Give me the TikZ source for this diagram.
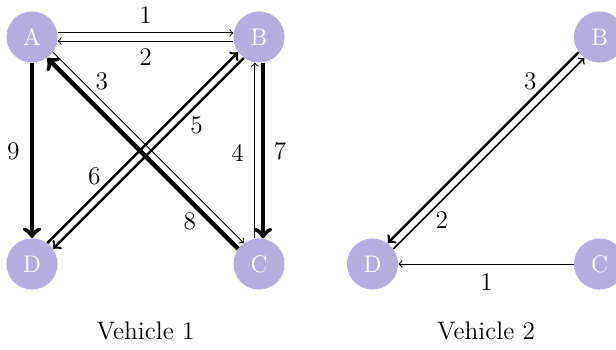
\documentclass[tikz,border=0pt]{standalone}
\usepackage{tikz}
\usetikzlibrary{calc}
\definecolor{vnode}{RGB}{181,173,219}
\newcommand{\lblsize}{\fontsize{12.7}{15}\selectfont}
\tikzset{
  vtx/.style={circle, fill=vnode, text=white, minimum size=0.9cm, inner sep=0pt, font=\large},
  elab/.style={font=\lblsize},
  wa/.style={->, line width=0.5pt},
  wb/.style={->, line width=0.75pt},
  wc/.style={->, line width=1.25pt},
  wd/.style={->, line width=2.2pt},
}

\begin{document}
\begin{tikzpicture}
\useasboundingbox (-0.564,0.652) rectangle (10.29,-5.498);
% vehicle 1
\node[vtx] (A) at (0,0) {A};
\node[vtx] (B) at (4,0) {B};
\node[vtx] (C) at (4,-4) {C};
\node[vtx] (D) at (0,-4) {D};
\draw[wa] (A.9) -- (B.171);
\draw[wa] (B.189) -- (A.351);
\draw[wa] (A.-36) -- (C.126);
\draw[wa] (C.99) -- (B.261);
\draw[wc] (B.234) -- (D.36);
\draw[wc] (D.54) -- (B.216);
\draw[wd] (B.279) -- (C.81);
\draw[wd] (C.144) -- (A.-54);
\draw[wd] (A.south) -- (D.north);
\node[elab] (a1) at (2.0,0.38) {1};
\node[elab] (a2) at (2.0,-0.36) {2};
\node[elab] (a3) at (1.23,-0.79) {3};
\node[elab] (a4) at (3.62,-2.04) {4};
\node[elab] (a5) at (2.90,-1.55) {5};
\node[elab] (a6) at (1.10,-2.46) {6};
\node[elab] (a7) at (4.37,-2.02) {7};
\node[elab] (a8) at (2.78,-3.25) {8};
\node[elab] (a9) at (-0.33,-2.02) {9};
\node[elab] (cap1) at (2.0,-5.18) {Vehicle 1};
% vehicle 2
\node[vtx] (B2) at (10,0) {B};
\node[vtx] (C2) at (10,-4) {C};
\node[vtx] (D2) at (6,-4) {D};
\draw[wa] (C2.west) -- (D2.east);
\draw[wb] (D2.36) -- (B2.234);
\draw[wc] (B2.216) -- (D2.54);
\node[elab] (b1) at (8.01,-4.31) {1};
\node[elab] (b2) at (7.22,-3.22) {2};
\node[elab] (b3) at (8.78,-0.79) {3};
\node[elab] (cap2) at (8.0,-5.18) {Vehicle 2};
\end{tikzpicture}
\end{document}
